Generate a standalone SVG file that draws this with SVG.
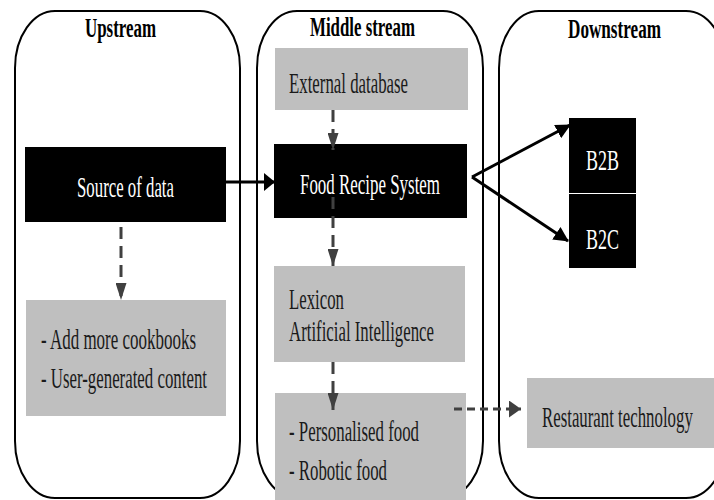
<svg xmlns="http://www.w3.org/2000/svg" width="714" height="500" viewBox="0 0 714 500">
<style>
.lane{fill:#fff;stroke:#000;stroke-width:2}
.blk{fill:#000}
.gry{fill:#bfbfbf}
.t{font-family:"Liberation Serif","Times New Roman",serif;font-size:28.5px;fill:#1a1a1a}
.tw{font-family:"Liberation Serif","Times New Roman",serif;font-size:28.5px;fill:#fff}
.h{font-family:"Liberation Serif","Times New Roman",serif;font-size:27px;font-weight:bold;fill:#000}
.dash{stroke:#404040;stroke-width:3;fill:none}
.dv{stroke-dasharray:12 7}
.dh{stroke-dasharray:8 5}
.solid{stroke:#000;stroke-width:3;fill:none}
</style>
<defs>
<marker id="arrV" markerUnits="userSpaceOnUse" markerWidth="17" markerHeight="11" refX="17" refY="5.5" orient="auto"><path d="M0,0 L17,5.5 L0,11 z" fill="#404040"/></marker>
<marker id="arrH" markerUnits="userSpaceOnUse" markerWidth="12" markerHeight="17" refX="12" refY="8.5" orient="auto"><path d="M0,0 L12,8.5 L0,17 z" fill="#404040"/></marker>
<marker id="arrB" markerUnits="userSpaceOnUse" markerWidth="11" markerHeight="18" refX="10" refY="9" orient="auto"><path d="M0,0 L11,9 L0,18 z" fill="#000"/></marker>
<marker id="arrD" markerUnits="userSpaceOnUse" markerWidth="15" markerHeight="15" refX="14" refY="7.5" orient="auto"><path d="M0,0 L15,7.5 L0,15 z" fill="#000"/></marker>
</defs>

<g id="lane-upstream">
<rect class="lane" x="15" y="11" width="225" height="487" rx="40" ry="57"/>
<text class="h" x="85" y="37" textLength="71" lengthAdjust="spacingAndGlyphs">Upstream</text>
</g>
<g id="lane-middle">
<rect class="lane" x="257" y="11" width="226" height="487" rx="40" ry="57"/>
<text class="h" x="310" y="36" textLength="105" lengthAdjust="spacingAndGlyphs">Middle stream</text>
</g>
<g id="lane-downstream">
<rect class="lane" x="499" y="11" width="227" height="487" rx="40" ry="57"/>
<text class="h" x="568" y="38" textLength="93" lengthAdjust="spacingAndGlyphs">Downstream</text>
</g>

<g id="source">
<rect class="blk" x="25" y="147" width="201" height="75"/>
<text class="tw" x="77" y="197" textLength="97" lengthAdjust="spacingAndGlyphs">Source of data</text>
</g>
<g id="upstream-actions">
<rect class="gry" x="26" y="300" width="200" height="116"/>
<text class="t" x="41" y="349" textLength="155" lengthAdjust="spacingAndGlyphs">- Add more cookbooks</text>
<text class="t" x="41" y="388" textLength="166" lengthAdjust="spacingAndGlyphs">- User-generated content</text>
</g>
<g id="external-db">
<rect class="gry" x="275" y="48" width="193" height="62"/>
<text class="t" x="289" y="93" textLength="119" lengthAdjust="spacingAndGlyphs">External database</text>
</g>
<g id="food-recipe">
<rect class="blk" x="274" y="144" width="193" height="74"/>
<text class="tw" x="300" y="194" textLength="140" lengthAdjust="spacingAndGlyphs">Food Recipe System</text>
</g>
<g id="lexicon">
<rect class="gry" x="274" y="266" width="191" height="96"/>
<text class="t" x="289" y="309" textLength="55" lengthAdjust="spacingAndGlyphs">Lexicon</text>
<text class="t" x="289" y="341" textLength="145" lengthAdjust="spacingAndGlyphs">Artificial Intelligence</text>
</g>
<g id="personalised">
<rect class="gry" x="275" y="393" width="191" height="112"/>
<text class="t" x="289" y="441" textLength="130" lengthAdjust="spacingAndGlyphs">- Personalised food</text>
<text class="t" x="289" y="480" textLength="98" lengthAdjust="spacingAndGlyphs">- Robotic food</text>
</g>
<g id="b2b">
<rect class="blk" x="569" y="118" width="67" height="75"/>
<text class="tw" x="586" y="170" textLength="33" lengthAdjust="spacingAndGlyphs">B2B</text>
</g>
<g id="b2c">
<rect class="blk" x="569" y="194" width="67" height="74"/>
<text class="tw" x="586" y="249" textLength="33" lengthAdjust="spacingAndGlyphs">B2C</text>
</g>
<g id="restaurant">
<rect class="gry" x="527" y="378" width="187" height="70"/>
<text class="t" transform="translate(542 427) scale(0.58 1)" x="0" y="0" textLength="260" lengthAdjust="spacingAndGlyphs">Restaurant technology</text>
</g>

<g id="connectors">
<line class="solid" x1="226" y1="182" x2="274" y2="182" marker-end="url(#arrB)"/>
<line class="solid" x1="472" y1="177" x2="570" y2="125" marker-end="url(#arrD)"/>
<line class="solid" x1="472" y1="177" x2="568" y2="241" marker-end="url(#arrD)"/>
<line class="dash dv" x1="333" y1="110" x2="333" y2="150" marker-end="url(#arrV)"/>
<line class="dash dv" x1="333" y1="197" x2="333" y2="266" marker-end="url(#arrV)"/>
<line class="dash dv" x1="333" y1="362" x2="333" y2="410" marker-end="url(#arrV)"/>
<line class="dash dv" x1="121" y1="227" x2="121" y2="300" marker-end="url(#arrV)"/>
<line class="dash dh" x1="454" y1="409" x2="521" y2="409" marker-end="url(#arrH)"/>
</g>
</svg>
